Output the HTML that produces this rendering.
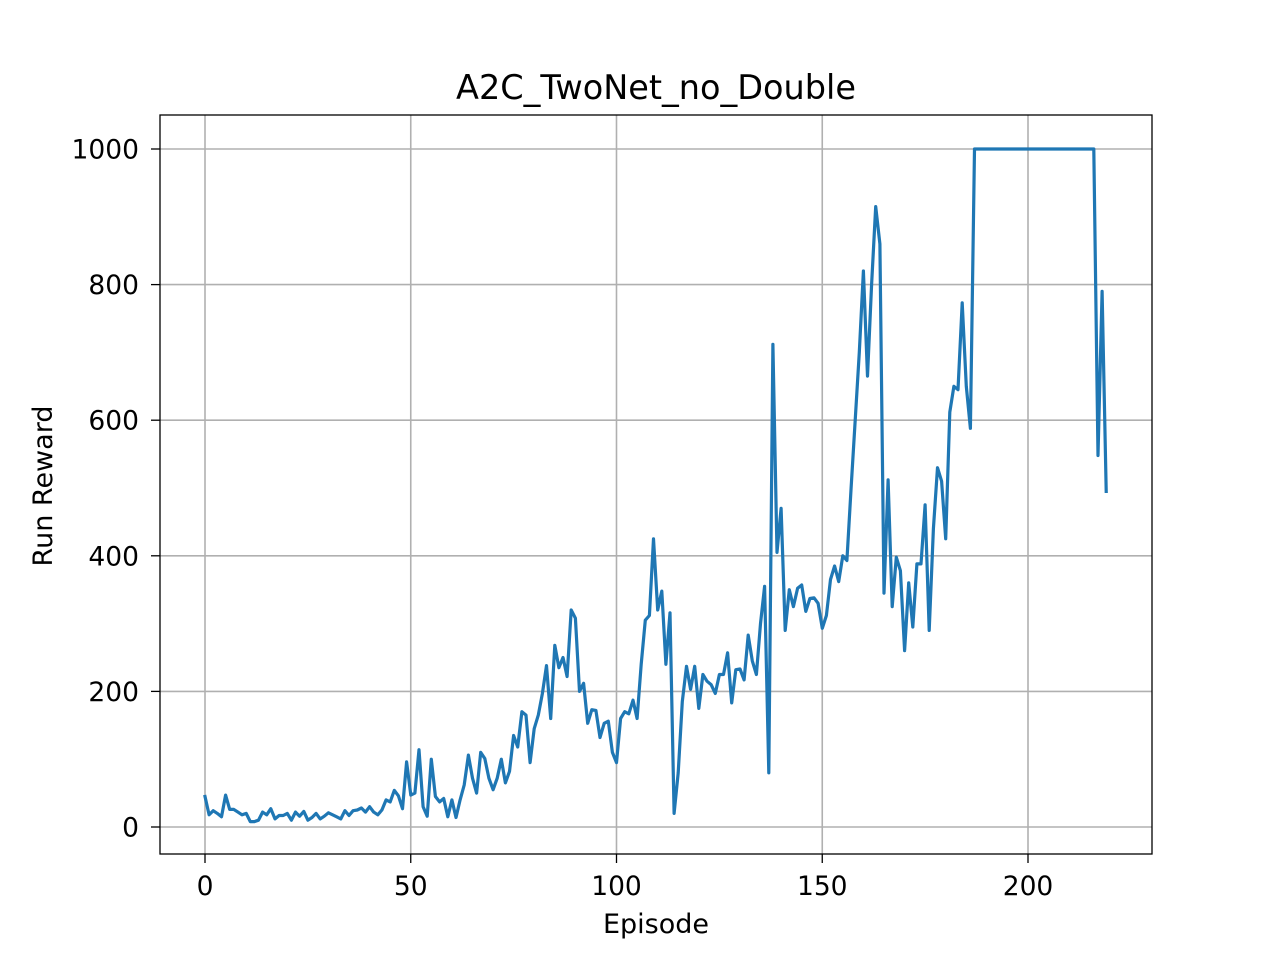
<!DOCTYPE html>
<html><head><meta charset="utf-8"><style>
body{margin:0;background:#fff}
svg text{font-family:"DejaVu Sans","Liberation Sans",sans-serif;fill:#000}
</style></head><body>
<svg id="chart" width="1280" height="960">
<rect width="1280" height="960" fill="#fff"/>
<g id="grid"></g>
<g id="ticks"></g>
<path id="line" fill="none" stroke="#1f77b4" stroke-width="3.2" stroke-linejoin="round" stroke-linecap="square"/>
<rect x="160" y="115" width="992" height="739" fill="none" stroke="#000" stroke-width="1.3"/>
<text x="656" y="99" style="font-size:33.5px" text-anchor="middle">A2C_TwoNet_no_Double</text>
<text x="656" y="933" style="font-size:27px" text-anchor="middle">Episode</text>
<text transform="translate(52,486) rotate(-90)" style="font-size:27px" text-anchor="middle">Run Reward</text>
</svg>
<script>
const rewards=[45,18,24,20,15,47,26,26,22,18,20,8,8,10,22,18,27,12,17,17,20,10,22,16,23,10,14,20,12,16,21,18,15,12,24,17,24,25,28,22,30,22,18,25,40,37,54,46,27,96,47,50,114,30,16,100,45,37,42,15,40,14,40,62,106,72,50,110,101,72,55,72,100,65,82,135,118,170,165,95,145,165,197,238,160,268,235,250,222,320,308,200,212,153,173,172,132,153,156,110,95,160,170,167,187,160,240,305,312,425,320,348,240,316,20,80,185,237,203,237,175,225,215,210,197,225,225,257,183,232,233,217,283,245,225,300,355,80,712,405,470,290,350,325,352,357,318,337,338,330,293,312,365,385,362,400,393,500,600,700,820,665,800,915,860,345,512,325,398,378,260,360,295,388,388,475,290,440,530,510,425,612,650,645,773,650,588,1000,1000,1000,1000,1000,1000,1000,1000,1000,1000,1000,1000,1000,1000,1000,1000,1000,1000,1000,1000,1000,1000,1000,1000,1000,1000,1000,1000,1000,1000,548,790,495];
const xTicks=[0,50,100,150,200];
const yTicks=[0,200,400,600,800,1000];
const X=v=>205+v*4.115;
const Y=v=>827-v*0.678;
const ns="http://www.w3.org/2000/svg";
const grid=document.getElementById('grid'),ticks=document.getElementById('ticks');
function mk(tag,attrs,parent){const e=document.createElementNS(ns,tag);for(const k in attrs)e.setAttribute(k,attrs[k]);parent.appendChild(e);return e;}
xTicks.forEach(t=>{
 const g=mk('line',{x1:X(t),x2:X(t),y1:115,y2:854,stroke:'#b0b0b0','stroke-width':1.6},grid);
 
 
 mk('line',{x1:X(t),x2:X(t),y1:854,y2:863,stroke:'#000','stroke-width':1.3},ticks);
 const tx=mk('text',{x:X(t),y:895,style:'font-size:26.5px','text-anchor':'middle'},ticks);
 tx.textContent=t;
 
 
});
yTicks.forEach(t=>{
 const g=mk('line',{x1:160,x2:1152,y1:Y(t),y2:Y(t),stroke:'#b0b0b0','stroke-width':1.6},grid);
 
 
 mk('line',{x1:151,x2:160,y1:Y(t),y2:Y(t),stroke:'#000','stroke-width':1.3},ticks);
 const tx=mk('text',{x:139,y:Y(t)+9.5,style:'font-size:26.5px','text-anchor':'end'},ticks);
 tx.textContent=t;
 
 
});
document.getElementById('line').setAttribute('d',rewards.map((v,i)=>(i?'L':'M')+X(i).toFixed(1)+','+Y(v).toFixed(1)).join(''));
</script>
</body></html>
